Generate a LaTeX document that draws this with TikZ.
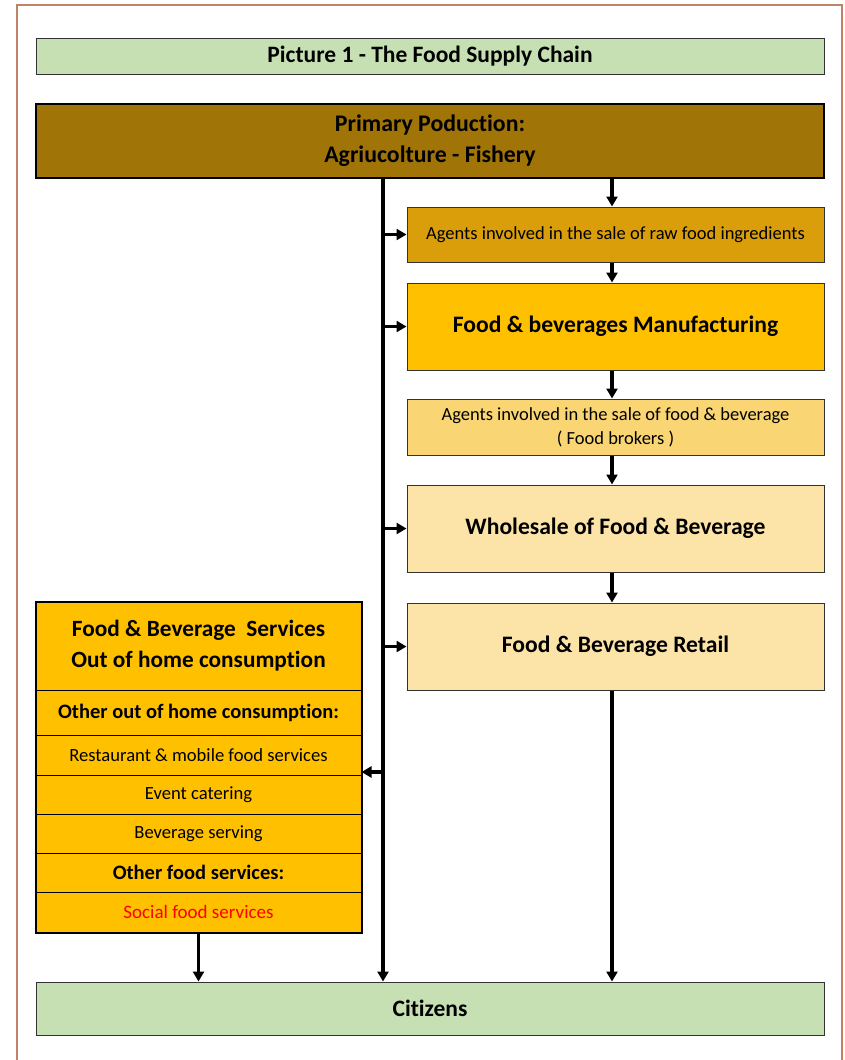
\documentclass[tikz,border=0pt]{standalone}
\usepackage{fontspec}
\setmainfont[Ligatures=NoCommon]{Carlito}
\usetikzlibrary{arrows.meta}
\definecolor{cgreen}{HTML}{C6E0B4}
\definecolor{cprim}{HTML}{A07406}
\definecolor{craw}{HTML}{D99E0A}
\definecolor{cman}{HTML}{FFC000}
\definecolor{cagent}{HTML}{F9D673}
\definecolor{cpale}{HTML}{FCE4A8}
\definecolor{cframe}{HTML}{BF8468}
\definecolor{cedge}{HTML}{333333}
\begin{document}
\begin{tikzpicture}[x=1pt,y=-1pt,
  box/.style={draw=cedge,line width=1pt,inner sep=0pt,align=center,text=black},
  rowbox/.style={draw=black,line width=1pt,fill=cman,inner sep=0pt,minimum width=325pt,align=center},
  arr/.style={line width=3.2pt,-{Triangle[length=10pt,width=11pt]}},
]
\useasboundingbox (0,0) rectangle (844,1060);
\draw[cframe,line width=1.5pt] (17,1062) -- (17,5) -- (842,5) -- (842,1062);

% title
\node[box,fill=cgreen,minimum width=788pt,minimum height=36pt,font=\bfseries\fontsize{23.5}{26}\selectfont] (title) at (430,56) {Picture 1 - The Food Supply Chain};
% primary
\node[box,draw=black,line width=1.4pt,fill=cprim,minimum width=788pt,minimum height=74pt,font=\bfseries\fontsize{23.8}{31}\selectfont] (primary) at (430,141) {Primary Poduction:\\Agriucolture - Fishery};
% right column
\node[box,fill=craw,minimum width=417pt,minimum height=55pt,font=\fontsize{18.5}{22}\selectfont] (raw) at (615.5,234.5) {Agents involved in the sale of raw food ingredients};
\node[box,fill=cman,minimum width=417pt,minimum height=87pt,font=\bfseries\fontsize{23.6}{26}\selectfont] (manuf) at (615.5,326.5) {Food \& beverages Manufacturing};
\node[box,fill=cagent,minimum width=417pt,minimum height=56pt,font=\fontsize{18.5}{24}\selectfont] (broker) at (615.5,427) {Agents involved in the sale of food \& beverage\\( Food brokers )};
\node[box,fill=cpale,minimum width=417pt,minimum height=87pt,font=\bfseries\fontsize{23.6}{26}\selectfont] (whole) at (615.5,528.5) {Wholesale of Food \& Beverage};
\node[box,fill=cpale,minimum width=417pt,minimum height=87pt,font=\bfseries\fontsize{23.6}{26}\selectfont] (retail) at (615.5,646.5) {Food \& Beverage Retail};
% citizens
\node[box,fill=cgreen,minimum width=788pt,minimum height=53pt,font=\bfseries\fontsize{23.5}{26}\selectfont] (citizens) at (430,1008.5) {Citizens};

% left box rows
\node[rowbox,minimum height=88pt,font=\bfseries\fontsize{23.3}{31}\selectfont] (fbs) at (198.5,646) {Food \& Beverage\ \ Services\\Out of home consumption};
\node[rowbox,minimum height=45pt,font=\bfseries\fontsize{20.5}{24}\selectfont] (other) at (198.5,712.5) {Other out of home consumption:};
\node[rowbox,minimum height=40pt,font=\fontsize{18.6}{22}\selectfont] (rest) at (198.5,755) {Restaurant \& mobile food services};
\node[rowbox,minimum height=39pt,font=\fontsize{18.6}{22}\selectfont] (event) at (198.5,794.5) {Event catering};
\node[rowbox,minimum height=39pt,font=\fontsize{18.6}{22}\selectfont] (bev) at (198.5,833.5) {Beverage serving};
\node[rowbox,minimum height=39pt,font=\bfseries\fontsize{20.5}{24}\selectfont] (ofood) at (198.5,872.5) {Other food services:};
\node[rowbox,minimum height=40pt,font=\fontsize{19}{22}\selectfont,text=red] (social) at (198.5,912) {Social food services};
\draw[black,line width=2pt] (fbs.north west) rectangle (social.south east);

% trunk and branches
\coordinate (t) at (383,0);
\coordinate (r) at (612,0);
\coordinate (lb) at (0,772);
\draw[arr] (t |- primary.south) -- (t |- citizens.north);
\draw[arr] (t |- raw.west) -- (raw.west);
\draw[arr] (t |- manuf.west) -- (manuf.west);
\draw[arr] (t |- whole.west) -- (whole.west);
\draw[arr] (t |- retail.west) -- (retail.west);
\draw[arr] (t |- lb) -- (social.east |- lb);
% right chain
\draw[arr] (r |- primary.south) -- (r |- raw.north);
\draw[arr] (r |- raw.south) -- (r |- manuf.north);
\draw[arr] (r |- manuf.south) -- (r |- broker.north);
\draw[arr] (r |- broker.south) -- (r |- whole.north);
\draw[arr] (r |- whole.south) -- (r |- retail.north);
\draw[arr] (r |- retail.south) -- (r |- citizens.north);
\draw[arr] (social.south) -- (social.south |- citizens.north);
\end{tikzpicture}
\end{document}
